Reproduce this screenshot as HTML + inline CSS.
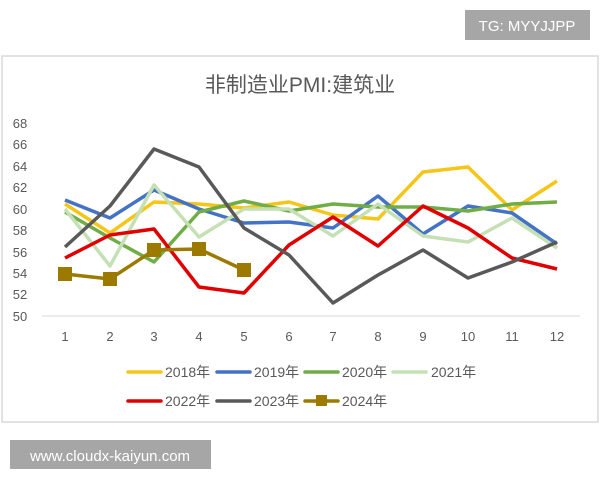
<!DOCTYPE html>
<html><head><meta charset="utf-8"><style>
body{margin:0;width:600px;height:480px;background:#fff;overflow:hidden;font-family:"Liberation Sans","Noto Sans CJK SC",sans-serif}
</style></head><body>
<svg width="600" height="480" xmlns="http://www.w3.org/2000/svg" font-family="Liberation Sans, Noto Sans CJK SC, sans-serif">
<rect x="465" y="10" width="125" height="30" fill="#a6a6a6"/>
<text x="527" y="31" font-size="15" fill="#fff" text-anchor="middle">TG: MYYJJPP</text>
<rect x="2" y="56" width="596" height="366" fill="#fff" stroke="#d9d9d9" stroke-width="1.5"/>
<text x="300" y="92" font-size="21" fill="#595959" text-anchor="middle">非制造业PMI:建筑业</text>
<g font-size="13" fill="#595959" text-anchor="middle">
<text x="20" y="128">68</text><text x="20" y="149">66</text><text x="20" y="171">64</text><text x="20" y="192">62</text><text x="20" y="214">60</text><text x="20" y="235">58</text><text x="20" y="257">56</text><text x="20" y="278">54</text><text x="20" y="299">52</text><text x="20" y="321">50</text>
<text x="65" y="341">1</text><text x="110" y="341">2</text><text x="154" y="341">3</text><text x="199" y="341">4</text><text x="244" y="341">5</text><text x="289" y="341">6</text><text x="333" y="341">7</text><text x="378" y="341">8</text><text x="423" y="341">9</text><text x="468" y="341">10</text><text x="512" y="341">11</text><text x="557" y="341">12</text>
</g>
<line x1="42" y1="316" x2="580" y2="316" stroke="#d9d9d9" stroke-width="1"/>
<g fill="none" stroke-width="3.5" stroke-linejoin="round">
<polyline stroke="#f5c518" points="65,204 110,233 154,202 199,204 244,208 289,202 333,215 378,219 423,172 468,167 512,210 557,181"/>
<polyline stroke="#4472c4" points="65,200 110,218 154,190 199,209 244,223 289,222 333,228 378,196 423,234 468,206 512,213 557,244"/>
<polyline stroke="#70ad47" points="65,212 110,238 154,262 199,212 244,201 289,211 333,204 378,207 423,207 468,211 512,204 557,202"/>
<polyline stroke="#c5e0b4" points="65,209 110,266 154,185 199,237 244,209 289,209 333,236 378,204 423,236 468,242 512,218 557,248"/>
<polyline stroke="#e00000" points="65,258 110,235 154,229 199,287 244,293 289,245 333,217 378,246 423,206 468,228 512,258 557,269"/>
<polyline stroke="#595959" points="65,247 110,206 154,149 199,167 244,228 289,255 333,303 378,275 423,250 468,278 512,262 557,242"/>
<polyline stroke="#9c7a00" points="65,274 110,279 154,250 199,249 244,270"/>
</g>
<g fill="#9c7a00"><rect x="58" y="267" width="14" height="14"/><rect x="103" y="272" width="14" height="14"/><rect x="147" y="243" width="14" height="14"/><rect x="192" y="242" width="14" height="14"/><rect x="237" y="263" width="14" height="14"/></g>
<g stroke-width="3.5" stroke-linecap="round">
<line x1="128" y1="372" x2="161" y2="372" stroke="#f5c518"/>
<line x1="217" y1="372" x2="250" y2="372" stroke="#4472c4"/>
<line x1="305" y1="372" x2="338" y2="372" stroke="#70ad47"/>
<line x1="393" y1="372" x2="426" y2="372" stroke="#c5e0b4"/>
<line x1="128" y1="401" x2="161" y2="401" stroke="#e00000"/>
<line x1="217" y1="401" x2="250" y2="401" stroke="#595959"/>
<line x1="305" y1="401" x2="338" y2="401" stroke="#9c7a00"/>
</g>
<rect x="316" y="395" width="11" height="11" fill="#9c7a00"/>
<g font-size="14" fill="#595959">
<text x="165" y="377">2018年</text><text x="254" y="377">2019年</text><text x="342" y="377">2020年</text><text x="431" y="377">2021年</text>
<text x="165" y="406">2022年</text><text x="254" y="406">2023年</text><text x="342" y="406">2024年</text>
</g>
<rect x="10" y="440" width="201" height="29" fill="#a6a6a6"/>
<text x="110" y="461" font-size="15" fill="#fff" text-anchor="middle">www.cloudx-kaiyun.com</text>
</svg>
</body></html>
